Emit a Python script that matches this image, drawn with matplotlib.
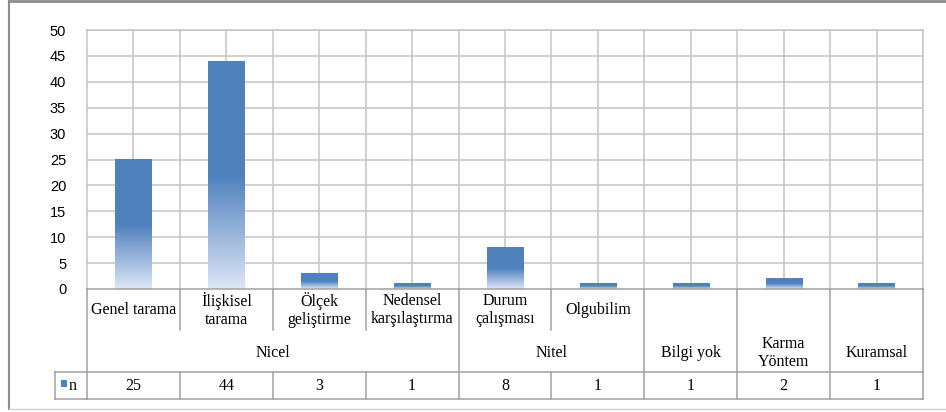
import numpy as np
import matplotlib
matplotlib.use("Agg")
from matplotlib import pyplot as plt
from matplotlib import transforms
from matplotlib.lines import Line2D
from matplotlib.patches import Rectangle

# data
sub_labels = ["Genel tarama", "İlişkisel\ntarama", "Ölçek\ngeliştirme", "Nedensel\nkarşılaştırma",
              "Durum\nçalışması", "Olgubilim", "", "", ""]
values = [25, 44, 3, 1, 8, 1, 1, 2, 1]
groups = ["Nicel", "Nitel", "Bilgi yok", "Karma\nYöntem", "Kuramsal"]
group_sizes = [4, 2, 1, 1, 1]
series_name = "n"
y_ticks = list(range(0, 51, 5))

W, H = 946, 412
plt.rcParams['font.family'] = ['Liberation Serif', 'DejaVu Serif']
fig = plt.figure(figsize=(W / 100, H / 100), dpi=100)
FS = 11.5
LS = 1.1

def fy(py):
    return 1 - py / H

def fx(px):
    return px / W

ax = fig.add_axes([fx(87), fy(289), fx(923) - fx(87), fy(30) - fy(289)])

dark = np.array([79, 129, 189]) / 255
light = np.array([221, 230, 247]) / 255
n = 200
t = np.linspace(0, 1, n)
mix = np.clip(t / 0.5, 0, 1)[:, None]
grad = (light * (1 - mix) + dark * mix)[:, None, :]

bar_w = 0.39
for i, v in enumerate(values):
    ax.imshow(grad, extent=[i - bar_w / 2, i + bar_w / 2, 0, v], origin='lower',
              aspect='auto', interpolation='bilinear', zorder=3)

ncat = len(values)
ax.set_xlim(-0.5, ncat - 0.5)
ax.set_ylim(0, 50)
ax.set_yticks(y_ticks)
ax.set_xticks([])
ax.tick_params(axis='y', length=0, pad=15)
for lab in ax.get_yticklabels():
    lab.set_family(['Liberation Sans', 'DejaVu Sans'])
    lab.set_fontsize(10.5)

grid_c = "#c4c4c4"
for y in y_ticks[1:]:
    ax.axhline(y, color=grid_c, lw=1.1, zorder=1)
for xg in np.arange(0, ncat, 0.5):
    ax.axvline(xg, color=grid_c, lw=1.1, zorder=1)
for name, sp in ax.spines.items():
    sp.set_color(grid_c)
    sp.set_linewidth(1.1)
ax.spines['bottom'].set_visible(False)

# data table under the axis
tr = transforms.blended_transform_factory(ax.transData, fig.transFigure)
line_c = "#a0a0a0"

def hline(x0, x1, py, trans=tr):
    fig.add_artist(Line2D([x0, x1], [fy(py), fy(py)], color=line_c, lw=1.1, transform=trans))

def vline(x, py0, py1, trans=tr):
    fig.add_artist(Line2D([x, x], [fy(py0), fy(py1)], color=line_c, lw=1.1, transform=trans))

left, right = -0.5, ncat - 0.5
hline(left, right, 289)
hline(left, right, 372)
hline(left, right, 399)
ftr = fig.transFigure
fig.add_artist(Line2D([fx(55), fx(87)], [fy(372), fy(372)], color=line_c, lw=1.1, transform=ftr))
fig.add_artist(Line2D([fx(55), fx(87)], [fy(399), fy(399)], color=line_c, lw=1.1, transform=ftr))
fig.add_artist(Line2D([fx(55), fx(55)], [fy(372), fy(399)], color=line_c, lw=1.1, transform=ftr))
vline(left, 289, 399)

group_edges = np.cumsum(group_sizes) - 0.5
start = -0.5
for g, size, edge in zip(groups, group_sizes, group_edges):
    vline(edge, 289, 399)
    for k in range(1, size):
        b = start + k
        vline(b, 289, 330)
        vline(b, 372, 399)
    fig.text((start + edge) / 2, fy(353), g, transform=tr, ha='center', va='center',
             fontsize=FS, linespacing=LS)
    start = edge

for i, (lab, v) in enumerate(zip(sub_labels, values)):
    if lab:
        fig.text(i, fy(310), lab, transform=tr, ha='center', va='center', fontsize=FS,
                 linespacing=LS)
    fig.text(i, fy(386), str(v), transform=tr, ha='center', va='center', fontsize=FS)

# legend key in the table
fig.add_artist(Rectangle((fx(61), fy(387)), fx(6), fy(380) - fy(387), transform=ftr,
                         facecolor=dark, edgecolor='none'))
fig.text(fx(69), fy(386), series_name, ha='left', va='center', fontsize=FS)

# outer chart frame
fig.add_artist(Line2D([fx(9), fx(9)], [fy(1), fy(409)], color="#8c8c8c", lw=1.5, transform=ftr))
fig.add_artist(Line2D([fx(9), 1], [fy(1), fy(1)], color="#8c8c8c", lw=2.0, transform=ftr))
fig.add_artist(Line2D([fx(9), 1], [fy(409), fy(409)], color="#d0d0d0", lw=1.0, transform=ftr))

fig.savefig("out.png", dpi=100)
